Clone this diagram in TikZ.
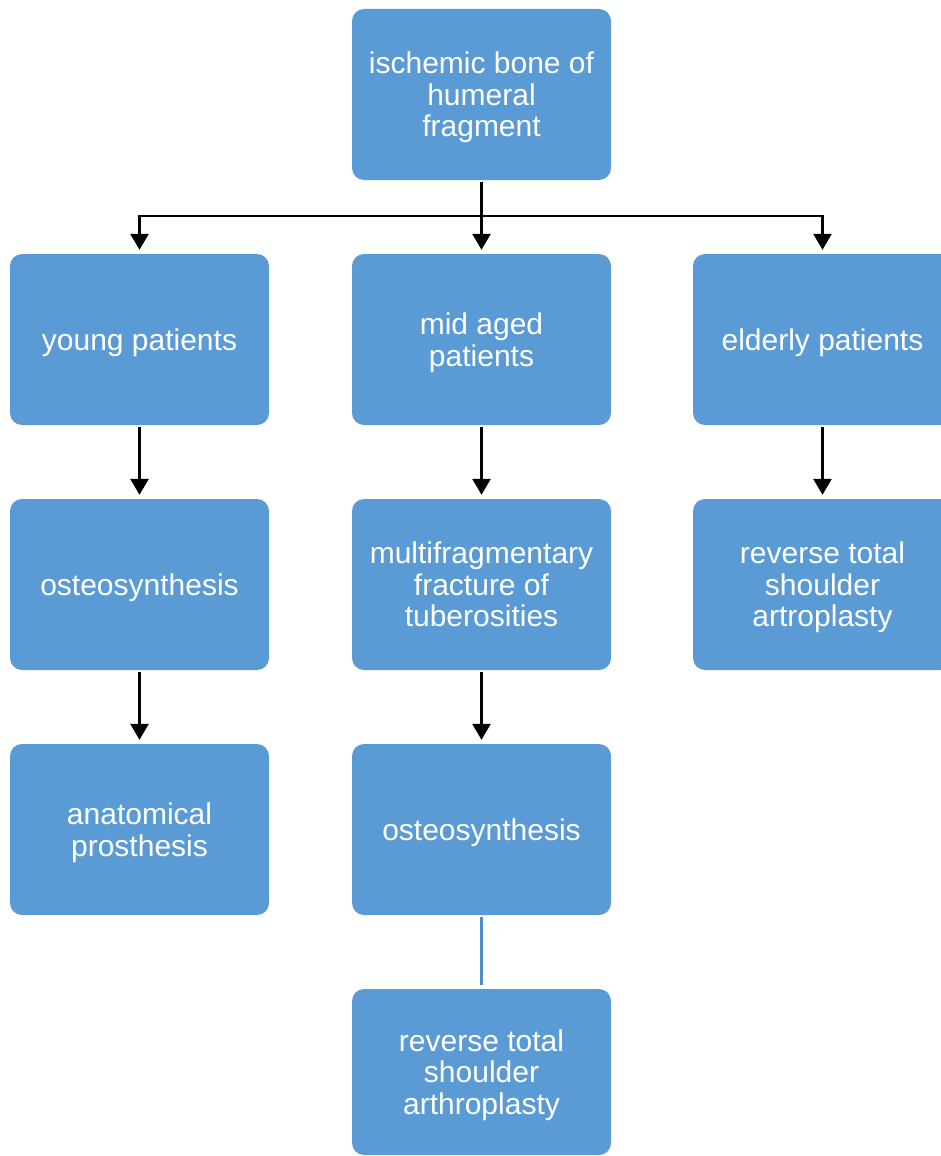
\documentclass[tikz,border=0pt]{standalone}
\usepackage{fontspec}
\setmainfont{Liberation Sans}
\usetikzlibrary{arrows.meta}
\definecolor{boxblue}{HTML}{5B9BD5}
\definecolor{lineblue}{HTML}{4F8CC9}
\tikzset{
  box/.style={fill=boxblue, draw=none, rounded corners=12pt, text=white,
    minimum width=259pt, minimum height=171pt, inner sep=0pt, align=center,
    font=\fontsize{30}{31.5}\selectfont, text depth=0pt},
  arr/.style={draw=black, line width=2.8pt, -{Triangle[width=18pt,length=16pt]},
    shorten <=2pt, shorten >=4pt},
  plainline/.style={draw=lineblue, line width=3pt}
}
\begin{document}
\begin{tikzpicture}[x=1pt,y=-1pt]
\useasboundingbox (0,0) rectangle (941,1156);
\clip (0,0) rectangle (941,1156);
\node[box] (top) at (481.5,94.5) {ischemic bone of\\humeral\\fragment};
\node[box] (y1) at (139.5,339.5) {young patients};
\node[box] (m1) at (481.5,339.5) {mid aged\\patients};
\node[box] (e1) at (822.5,339.5) {elderly patients};
\node[box] (y2) at (139.5,584.5) {osteosynthesis};
\node[box] (m2) at (481.5,584.5) {multifragmentary\\fracture of\\tuberosities};
\node[box] (e2) at (822.5,584.5) {reverse total\\shoulder\\artroplasty};
\node[box] (y3) at (139.5,829.5) {anatomical\\prosthesis};
\node[box] (m3) at (481.5,829.5) {osteosynthesis};
\node[box, minimum height=166pt] (m4) at (481.5,1072) {reverse total\\shoulder\\arthroplasty};
\coordinate (j) at (481.5,216);
\draw[arr] (top.south) -- (m1.north);
\draw[arr, shorten <=0pt] (j) -| (y1.north);
\draw[arr, shorten <=0pt] (j) -| (e1.north);
\draw[arr] (y1.south) -- (y2.north);
\draw[arr] (m1.south) -- (m2.north);
\draw[arr] (e1.south) -- (e2.north);
\draw[arr] (y2.south) -- (y3.north);
\draw[arr] (m2.south) -- (m3.north);
\draw[plainline, shorten <=2pt, shorten >=4pt] (m3.south) -- (m4.north);
\end{tikzpicture}
\end{document}
